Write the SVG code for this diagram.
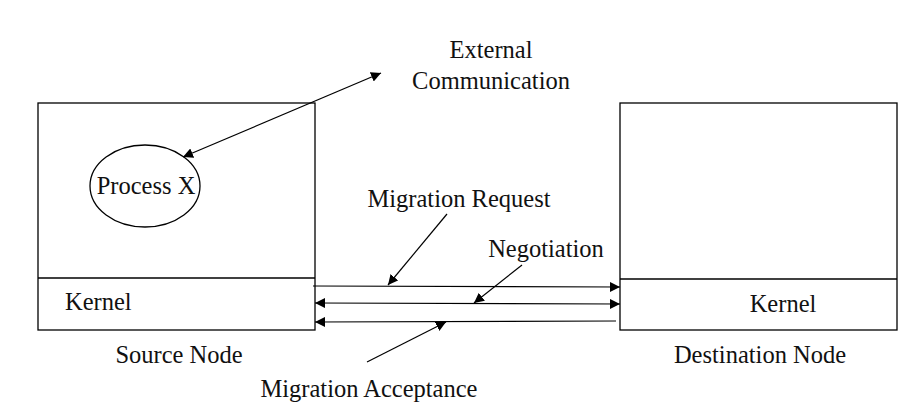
<svg xmlns="http://www.w3.org/2000/svg" width="921" height="410" viewBox="0 0 921 410">
<style>
.box{fill:none;stroke:#000;stroke-width:1.3}
.ln{stroke:#000;stroke-width:1.2;fill:none}
text{font-family:"Liberation Serif","Times New Roman",serif;font-size:24.5px;fill:#111}
</style>
<defs>
<marker id="ah" viewBox="0 0 10 10" refX="10" refY="5" markerWidth="10" markerHeight="10" markerUnits="userSpaceOnUse" orient="auto-start-reverse">
<path d="M0,0 L10,5 L0,10 z" fill="#000"/>
</marker>
</defs>
<rect width="921" height="410" fill="#fff"/>
<g id="source-node">
<rect class="box" x="38" y="103" width="277" height="227"/>
<line class="box" x1="38" y1="278" x2="315" y2="278"/>
<text x="65" y="310">Kernel</text>
<text x="179" y="363" text-anchor="middle">Source Node</text>
</g>
<g id="process-x">
<ellipse class="box" cx="145" cy="186" rx="55" ry="41" stroke-width="1"/>
<text x="146" y="194" text-anchor="middle" font-size="22">Process X</text>
</g>
<g id="destination-node">
<rect class="box" x="620" y="103" width="277" height="227"/>
<line class="box" x1="620" y1="279" x2="897" y2="279"/>
<text x="783" y="312" text-anchor="middle">Kernel</text>
<text x="760" y="363" text-anchor="middle">Destination Node</text>
</g>
<g id="labels">
<text x="491" y="58" text-anchor="middle">External</text>
<text x="491" y="89" text-anchor="middle">Communication</text>
<text x="459" y="207" text-anchor="middle">Migration Request</text>
<text x="546" y="257" text-anchor="middle">Negotiation</text>
<text x="369" y="397" text-anchor="middle">Migration Acceptance</text>
</g>
<g id="connectors">
<line class="ln" x1="183" y1="157" x2="381" y2="73" marker-start="url(#ah)" marker-end="url(#ah)"/>
<line class="ln" x1="313" y1="286" x2="620" y2="287" marker-end="url(#ah)"/>
<line class="ln" x1="315" y1="303" x2="620" y2="304" marker-start="url(#ah)" marker-end="url(#ah)"/>
<line class="ln" x1="616" y1="321" x2="315" y2="322" marker-end="url(#ah)"/>
<line class="ln" x1="447" y1="214" x2="388" y2="285" marker-end="url(#ah)"/>
<line class="ln" x1="522" y1="265" x2="474" y2="303" marker-end="url(#ah)"/>
<line class="ln" x1="367" y1="362" x2="446" y2="322" marker-end="url(#ah)"/>
</g>
</svg>
